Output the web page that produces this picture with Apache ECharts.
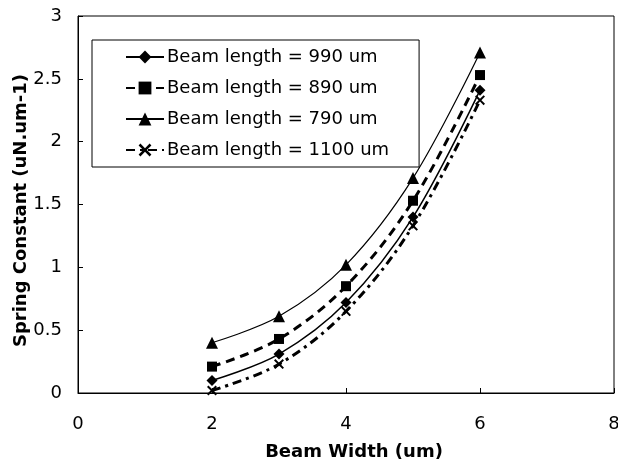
<!DOCTYPE html>
<html>
<head>
<meta charset="utf-8">
<script src="https://cdn.jsdelivr.net/npm/echarts@6/dist/echarts.min.js"></script>
<style>
  html, body { margin: 0; padding: 0; background: #fff; }
  #chart { width: 618px; height: 460px; }
</style>
</head>
<body>
<div id="chart"></div>
<script>
  // beam width (um)
  var widths = [2, 3, 4, 5, 6];

  // spring constant (uN.um-1) per beam length
  var k990 = [0.10, 0.31, 0.72, 1.40, 2.41];
  var k890 = [0.21, 0.43, 0.85, 1.53, 2.53];
  var k790 = [0.40, 0.61, 1.02, 1.71, 2.71];
  var k1100 = [0.02, 0.23, 0.65, 1.33, 2.33];

  var names = [
    "Beam length = 990 um",
    "Beam length = 890 um",
    "Beam length = 790 um",
    "Beam length = 1100 um"
  ];

  var FONT = "DejaVu Sans, Liberation Sans, sans-serif";
  var crossPath = "path://M0,1.4L1.4,0L5,3.6L8.6,0L10,1.4L6.4,5L10,8.6L8.6,10L5,6.4L1.4,10L0,8.6L3.6,5Z";

  function pairs(values) {
    return widths.map(function (w, i) { return [w, values[i]]; });
  }

  function lineSeries(name, values, symbol, size, lineStyle) {
    return {
      name: name,
      type: "line",
      data: pairs(values),
      smooth: 0.35,
      symbol: symbol,
      symbolSize: size,
      itemStyle: { color: "#000" },
      lineStyle: Object.assign({ color: "#000" }, lineStyle)
    };
  }

  var chart = echarts.init(document.getElementById("chart"), null, { renderer: "canvas" });

  chart.setOption({
    backgroundColor: "#fff",
    animation: false,
    textStyle: { fontFamily: FONT, color: "#000" },
    grid: {
      left: 78, right: 4, top: 16, bottom: 67,
      outerBoundsMode: "none",
      containLabel: false,
      show: true, borderColor: "#000", borderWidth: 1
    },
    legend: {
      orient: "vertical",
      left: 92,
      top: 40,
      padding: [8, 30, 8, 33],
      itemGap: 13,
      itemWidth: 38,
      itemHeight: 16,
      borderColor: "#000",
      borderWidth: 1,
      backgroundColor: "#fff",
      textStyle: { fontSize: 18, color: "#000", fontFamily: FONT, padding: [0, 0, 0, -2] },
      data: names
    },
    xAxis: {
      type: "value",
      min: 0, max: 8, interval: 2,
      name: "Beam Width (um)",
      nameLocation: "middle",
      nameGap: 50,
      nameMoveOverlap: false,
      nameTextStyle: { fontSize: 18, fontWeight: "bold", color: "#000", fontFamily: FONT, padding: [0, 0, 0, 16] },
      axisLine: { lineStyle: { color: "#000", width: 1 } },
      axisTick: { inside: true, length: 5, lineStyle: { color: "#000" } },
      axisLabel: { fontSize: 18, color: "#000", margin: 22, fontFamily: FONT },
      splitLine: { show: false }
    },
    yAxis: {
      type: "value",
      min: 0, max: 3, interval: 0.5,
      name: "Spring Constant (uN.um-1)",
      nameLocation: "middle",
      nameGap: 48,
      nameMoveOverlap: false,
      nameTextStyle: { fontSize: 18, fontWeight: "bold", color: "#000", fontFamily: FONT, padding: [0, 12, 0, 0] },
      axisLine: { show: true, lineStyle: { color: "#000", width: 1 } },
      axisTick: { show: true, inside: true, length: 5, lineStyle: { color: "#000" } },
      axisLabel: { fontSize: 18, color: "#000", margin: 16, fontFamily: FONT },
      splitLine: { show: false }
    },
    series: [
      lineSeries(names[0], k990, "diamond", 11, { width: 1.5, type: "solid" }),
      lineSeries(names[1], k890, "rect", 10, { width: 3, type: [9, 6] }),
      lineSeries(names[2], k790, "triangle", 12, { width: 1.2, type: "solid" }),
      lineSeries(names[3], k1100, crossPath, 10, { width: 3, type: [9, 5, 3, 5] })
    ]
  });
</script>
</body>
</html>
